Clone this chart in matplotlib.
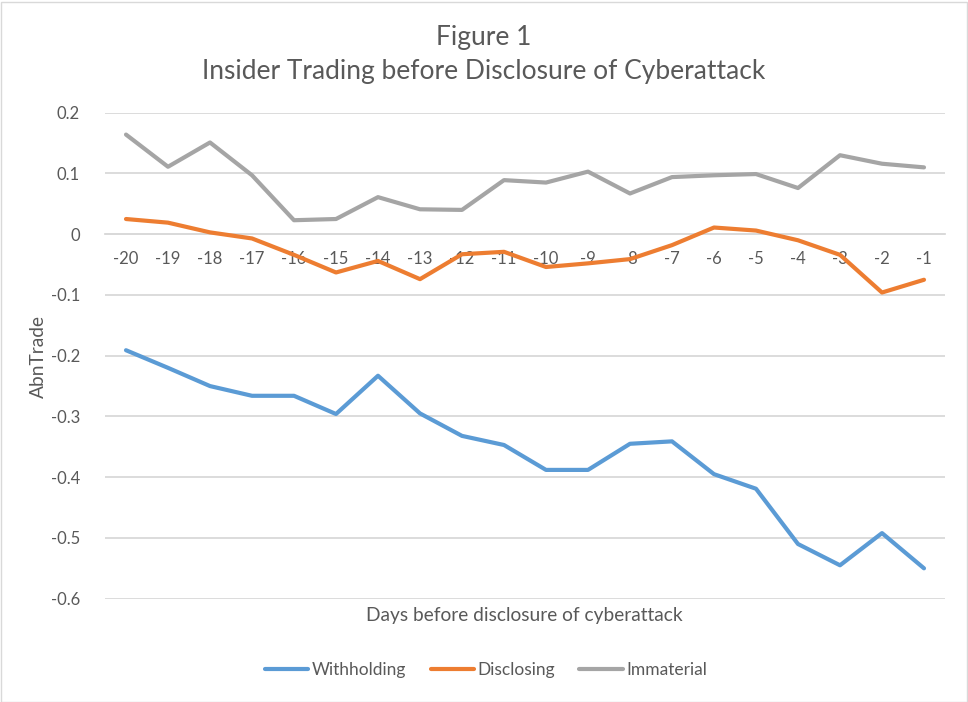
import numpy as np
import matplotlib
matplotlib.use("Agg")
import matplotlib.pyplot as plt
from matplotlib.patches import Rectangle

# Days before disclosure (categories) and the three series
days = ['-20', '-19', '-18', '-17', '-16', '-15', '-14', '-13', '-12', '-11',
        '-10', '-9', '-8', '-7', '-6', '-5', '-4', '-3', '-2', '-1']
withholding = [-0.191, -0.220, -0.250, -0.266, -0.266, -0.296, -0.233, -0.295, -0.332, -0.347,
               -0.388, -0.388, -0.345, -0.341, -0.395, -0.419, -0.510, -0.545, -0.492, -0.550]
disclosing = [0.025, 0.019, 0.003, -0.007, -0.034, -0.063, -0.044, -0.074, -0.033, -0.029,
              -0.054, -0.048, -0.041, -0.018, 0.011, 0.006, -0.010, -0.034, -0.096, -0.075]
immaterial = [0.164, 0.111, 0.151, 0.097, 0.023, 0.025, 0.061, 0.041, 0.040, 0.089,
              0.085, 0.103, 0.067, 0.094, 0.097, 0.099, 0.076, 0.130, 0.116, 0.110]
yticks = [0.2, 0.1, 0, -0.1, -0.2, -0.3, -0.4, -0.5, -0.6]
yticklabels = ['0.2', '0.1', '0', '-0.1', '-0.2', '-0.3', '-0.4', '-0.5', '-0.6']

BLUE = '#5B9BD5'
ORANGE = '#ED7D31'
GRAY = '#A5A5A5'
GRID = '#D9D9D9'
TEXT = '#595959'

plt.rcParams['font.family'] = ['Lato', 'DejaVu Sans']

W, H = 968, 702
fig = plt.figure(figsize=(W / 100, H / 100), dpi=100)
fig.patch.set_facecolor('white')
fig.patches.append(Rectangle((0.5 / W, 0.5 / H), 1 - 1.5 / W, 1 - 2.5 / H, transform=fig.transFigure,
                             fill=False, edgecolor=GRID, linewidth=1))

ax = fig.add_axes([105 / W, (H - 598.7) / H, 840 / W, 486 / H])
x = np.arange(len(days))

ax.plot(x, withholding, color=BLUE, linewidth=3, solid_capstyle='round', solid_joinstyle='round', label='Withholding')
ax.plot(x, disclosing, color=ORANGE, linewidth=3, solid_capstyle='round', solid_joinstyle='round', label='Disclosing')
ax.plot(x, immaterial, color=GRAY, linewidth=3, solid_capstyle='round', solid_joinstyle='round', label='Immaterial')

ax.set_xlim(-0.5, len(days) - 0.5)
ax.set_ylim(-0.6, 0.2)
ax.set_yticks(yticks)
ax.set_yticklabels(yticklabels)
ax.set_xticks(x)
ax.set_xticklabels(days)
ax.grid(axis='y', color=GRID, linewidth=1.3)
ax.set_axisbelow(True)

for s in ['top', 'right', 'left']:
    ax.spines[s].set_visible(False)
ax.spines['bottom'].set_position(('data', 0))
ax.spines['bottom'].set_color(GRID)
ax.spines['bottom'].set_linewidth(1.3)
ax.spines['bottom'].set_zorder(0.5)

ax.tick_params(axis='x', length=0, pad=12, labelsize=12, labelcolor=TEXT)
ax.tick_params(axis='y', length=0, pad=18, labelsize=12, labelcolor=TEXT)

ax.set_ylabel('AbnTrade', fontsize=13.8, color=TEXT)
ax.yaxis.set_label_coords(-58 / 840, (598.7 - 356) / 486)

fig.text(524 / W, 1 - 616 / H, 'Days before disclosure of cyberattack', ha='center', va='center',
         fontsize=13.8, color=TEXT)
fig.text(484 / W, 1 - 37 / H, 'Figure 1', ha='center', va='center', fontsize=19, color=TEXT)
fig.text(484 / W, 1 - 72 / H, 'Insider Trading before Disclosure of Cyberattack', ha='center', va='center',
         fontsize=19, color=TEXT)

leg = fig.legend(loc='center', bbox_to_anchor=(486 / W, 1 - 670 / H), ncol=3, frameon=False,
                 fontsize=12.5, handlelength=2.5, handletextpad=0.2, columnspacing=1.4)
for t in leg.get_texts():
    t.set_color(TEXT)

fig.savefig('out.png', dpi=100)
